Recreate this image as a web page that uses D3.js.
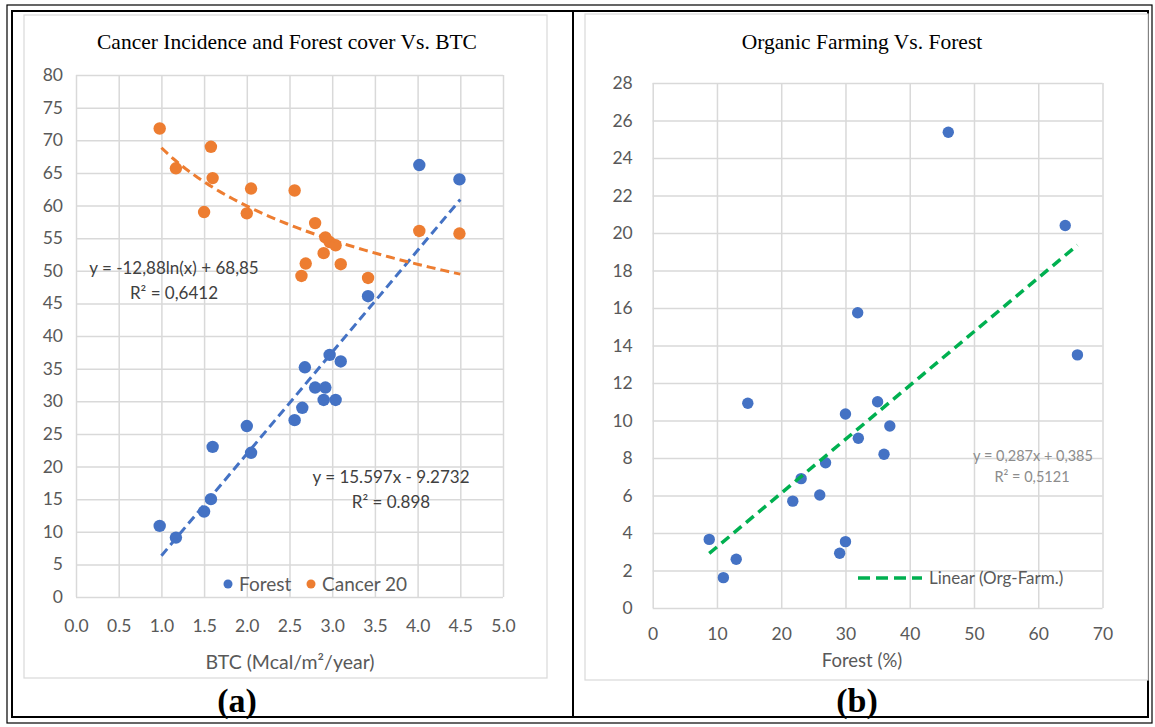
<!DOCTYPE html>
<html><head><meta charset="utf-8">
<script src="https://cdn.jsdelivr.net/npm/d3@7"></script>
<style>body{margin:0;background:#fff} svg{display:block}</style>
</head><body><svg id="c" width="1155" height="727"></svg>
<script>
// ---- Data: panel (a)
const forestBTC  = [0.98,1.17,1.50,1.58,1.60,2.00,2.05,2.56,2.65,2.68,2.80,2.90,2.92,2.97,3.04,3.10,3.42,4.02,4.49];
const forestPct  = [10.9,9.1,13.1,15.0,23.0,26.2,22.1,27.1,29.0,35.2,32.1,30.2,32.1,37.1,30.2,36.1,46.1,66.2,64.0];
const cancerBTC  = [0.98,1.17,1.50,1.58,1.60,2.00,2.05,2.56,2.64,2.69,2.80,2.90,2.92,2.97,3.04,3.10,3.42,4.02,4.49];
const cancerRate = [71.8,65.7,59.0,69.0,64.2,58.8,62.6,62.3,49.2,51.1,57.3,52.7,55.1,54.4,53.9,51.0,48.9,56.1,55.7];
const xTicksA = [0,0.5,1,1.5,2,2.5,3,3.5,4,4.5,5];
const yTicksA = [0,5,10,15,20,25,30,35,40,45,50,55,60,65,70,75,80];
const forestFit = {slope:15.597, intercept:-9.2732, x0:1, x1:4.5};
const cancerFit = {a:-12.88, b:68.85, x0:1, x1:4.5};
// ---- Data: panel (b)
const forestPctB = [8.8,11.0,13.0,14.8,21.8,23.1,26.0,26.9,29.1,30.0,30.0,31.9,32.0,35.0,36.0,36.9,46.0,64.2,66.1];
const orgFarm    = [3.66,1.62,2.6,10.92,5.7,6.9,6.03,7.75,2.92,3.54,10.35,15.75,9.05,11.0,8.2,9.71,25.37,20.4,13.5];
const xTicksB = [0,10,20,30,40,50,60,70];
const yTicksB = [0,2,4,6,8,10,12,14,16,18,20,22,24,26,28];
const orgFit = {slope:0.287, intercept:0.385, x0:8.8, x1:66.1};

const BLUE="#4472C4", ORANGE="#ED7D31", GREEN="#00B050", GRID="#d9d9d9", TXT="#595959";
const SANS="Lato, 'Liberation Sans', sans-serif", SERIF="'Liberation Serif', 'Times New Roman', serif";
const svg = d3.select("#c");

// frame
svg.append("rect").attr("x",7).attr("y",5).attr("width",1145).attr("height",718).attr("fill","none").attr("stroke","#000").attr("stroke-width",1.2);
svg.append("rect").attr("x",12).attr("y",11).attr("width",1136).attr("height",706).attr("fill","none").attr("stroke","#000").attr("stroke-width",2);
svg.append("line").attr("x1",573).attr("x2",573).attr("y1",11).attr("y2",717).attr("stroke","#000").attr("stroke-width",2);
// chart areas
svg.append("rect").attr("x",24).attr("y",15).attr("width",523).attr("height",663).attr("fill","#fff").attr("stroke",GRID).attr("stroke-width",1.2);
svg.append("rect").attr("x",585).attr("y",14).attr("width",563).attr("height",666).attr("fill","#fff").attr("stroke",GRID).attr("stroke-width",1.2);

function gridAxes(g, x, y, xt, yt, xfmt, yfmt, xpad, ypad, fs){
  const [x0,x1]=x.range(), [y0,y1]=y.range();
  g.append("g").attr("transform",`translate(0,${y0})`)
    .call(d3.axisBottom(x).tickValues(xt).tickSize(-(y0-y1)).tickPadding(xpad).tickFormat(xfmt))
    .call(a=>{a.select(".domain").remove();
      a.selectAll("line").attr("stroke",GRID).attr("stroke-width",1.5);
      a.selectAll("text").attr("fill",TXT).style("font-family",SANS).style("font-size",fs+"px");});
  g.append("g").attr("transform",`translate(${x0},0)`)
    .call(d3.axisLeft(y).tickValues(yt).tickSize(-(x1-x0)).tickPadding(ypad).tickFormat(yfmt))
    .call(a=>{a.select(".domain").remove();
      a.selectAll("line").attr("stroke",GRID).attr("stroke-width",1.5);
      a.selectAll("text").attr("fill",TXT).style("font-family",SANS).style("font-size",fs+"px");});
}

// ===== Panel (a)
const xA = d3.scaleLinear().domain([0,5]).range([76,503]);
const yA = d3.scaleLinear().domain([0,80]).range([597,75]);
const gA = svg.append("g");
gridAxes(gA, xA, yA, xTicksA, yTicksA, d3.format(".1f"), d3.format("d"), 23, 13, 17.5);
gA.append("text").attr("x",287).attr("y",49).attr("text-anchor","middle")
  .style("font-family",SERIF).style("font-size","21.5px").attr("fill","#000")
  .text("Cancer Incidence and Forest cover Vs. BTC");
gA.append("text").attr("x",290).attr("y",669).attr("text-anchor","middle")
  .style("font-family",SANS).style("font-size","19.5px").attr("fill",TXT)
  .text("BTC (Mcal/m²/year)");

gA.selectAll("circle.f").data(forestBTC.map((v,i)=>[v,forestPct[i]])).join("circle")
  .attr("cx",d=>xA(d[0])).attr("cy",d=>yA(d[1])).attr("r",6.2).attr("fill",BLUE);
gA.selectAll("circle.c").data(cancerBTC.map((v,i)=>[v,cancerRate[i]])).enter().append("circle")
  .attr("cx",d=>xA(d[0])).attr("cy",d=>yA(d[1])).attr("r",6.2).attr("fill",ORANGE);

const line = (sx,sy)=>d3.line().x(d=>sx(d[0])).y(d=>sy(d[1]));
gA.append("path").datum([forestFit.x0,forestFit.x1].map(x=>[x,forestFit.slope*x+forestFit.intercept]))
  .attr("d",line(xA,yA)).attr("fill","none").attr("stroke",BLUE).attr("stroke-width",3).attr("stroke-dasharray","9,5");
gA.append("path").datum(d3.range(0,51).map(i=>{const x=cancerFit.x0+(cancerFit.x1-cancerFit.x0)*i/50;return [x,cancerFit.a*Math.log(x)+cancerFit.b];}))
  .attr("d",line(xA,yA)).attr("fill","none").attr("stroke",ORANGE).attr("stroke-width",3).attr("stroke-dasharray","9,5");

const eqA = (x,y,t)=>gA.append("text").attr("x",x).attr("y",y).attr("text-anchor","middle")
  .style("font-family",SANS).style("font-size","17px").attr("fill","#404040").text(t);
eqA(174,274,"y = -12,88ln(x) + 68,85");
eqA(174,299,"R² = 0,6412");
eqA(391,483,"y = 15.597x - 9.2732");
eqA(391,508,"R² = 0.898");

// legend a
const legA = gA.append("g").attr("transform","translate(0,584)");
[["Forest",BLUE,228],["Cancer 20",ORANGE,311]].forEach(([t,c,x])=>{
  legA.append("circle").attr("cx",x).attr("cy",0).attr("r",4.5).attr("fill",c);
  legA.append("text").attr("x",x+11).attr("y",6.5).style("font-family",SANS).style("font-size","19px").attr("fill",TXT).text(t);
});

svg.append("text").attr("x",237).attr("y",712).attr("text-anchor","middle")
  .style("font-family",SERIF).style("font-size","34px").style("font-weight","bold").attr("fill","#000").text("(a)");

// ===== Panel (b)
const xB = d3.scaleLinear().domain([0,70]).range([652.7,1102.5]);
const yB = d3.scaleLinear().domain([0,28]).range([608,83]);
const gB = svg.append("g");
gridAxes(gB, xB, yB, xTicksB, yTicksB, d3.format("d"), d3.format("d"), 20, 20, 17.5);
gB.append("text").attr("x",862).attr("y",49).attr("text-anchor","middle")
  .style("font-family",SERIF).style("font-size","21.5px").attr("fill","#000")
  .text("Organic Farming Vs. Forest");
gB.append("text").attr("x",862).attr("y",667).attr("text-anchor","middle")
  .style("font-family",SANS).style("font-size","18.5px").attr("fill",TXT)
  .text("Forest (%)");

gB.selectAll("circle").data(forestPctB.map((v,i)=>[v,orgFarm[i]])).join("circle")
  .attr("cx",d=>xB(d[0])).attr("cy",d=>yB(d[1])).attr("r",5.7).attr("fill",BLUE);
gB.append("path").datum([orgFit.x0,orgFit.x1].map(x=>[x,orgFit.slope*x+orgFit.intercept]))
  .attr("d",line(xB,yB)).attr("fill","none").attr("stroke",GREEN).attr("stroke-width",3.5).attr("stroke-dasharray","10,6");

const eqB = (x,y,t)=>gB.append("text").attr("x",x).attr("y",y).attr("text-anchor","middle")
  .style("font-family",SANS).style("font-size","14.5px").attr("fill","#8c8c8c").text(t);
eqB(1033,461,"y = 0,287x + 0,385");
eqB(1032,482,"R² = 0,5121");

gB.append("line").attr("x1",858).attr("x2",922).attr("y1",578).attr("y2",578)
  .attr("stroke",GREEN).attr("stroke-width",3.5).attr("stroke-dasharray","12,6");
gB.append("text").attr("x",929).attr("y",584).style("font-family",SANS).style("font-size","17px").attr("fill",TXT).text("Linear (Org-Farm.)");

svg.append("text").attr("x",857).attr("y",712).attr("text-anchor","middle")
  .style("font-family",SERIF).style("font-size","34px").style("font-weight","bold").attr("fill","#000").text("(b)");
</script></body></html>
